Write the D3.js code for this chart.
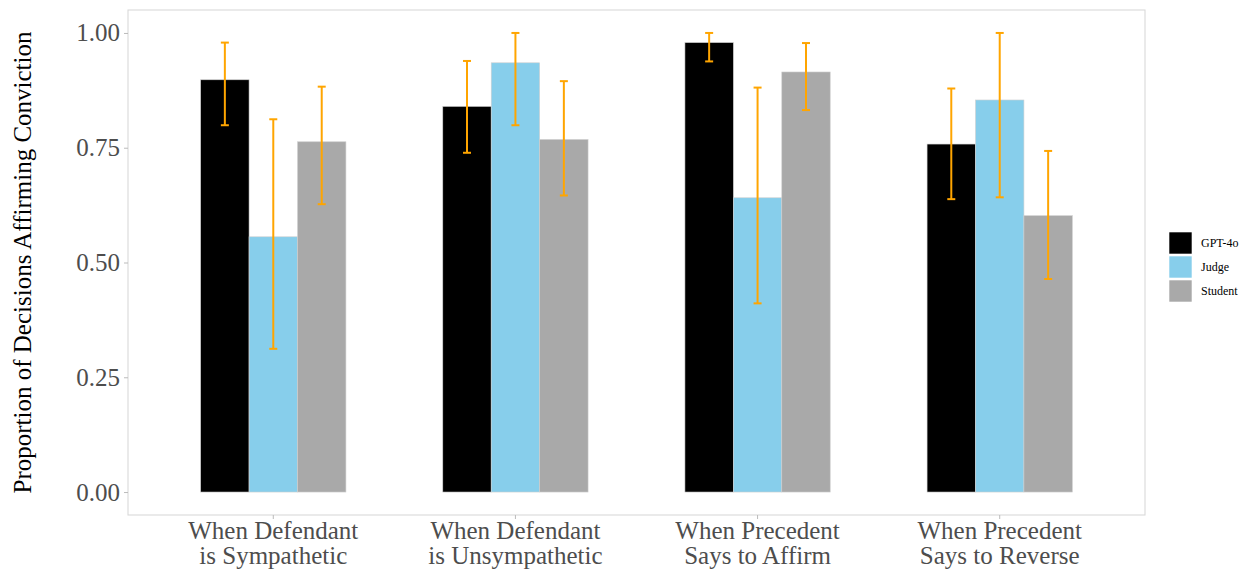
<!DOCTYPE html>
<html><head><meta charset="utf-8">
<script src="https://cdn.jsdelivr.net/npm/d3@7"></script>
<style>body{margin:0;background:#fff}svg{display:block}text{font-family:"Liberation Serif","Times New Roman",serif}</style>
</head><body>
<svg id="c" width="1243" height="569"></svg>
<script>
const categories = [["When Defendant","is Sympathetic"],["When Defendant","is Unsympathetic"],["When Precedent","Says to Affirm"],["When Precedent","Says to Reverse"]];
const groups = ["GPT-4o","Judge","Student"];
const colors = ["#000000","#87CEEB","#A9A9A9"];
const gptValues = [0.898, 0.840, 0.979, 0.758];
const gptLow = [0.799, 0.739, 0.938, 0.638];
const gptHigh = [0.979, 0.939, 1.0, 0.879];
const judgeValues = [0.556, 0.935, 0.641, 0.854];
const judgeLow = [0.312, 0.799, 0.411, 0.642];
const judgeHigh = [0.812, 1.0, 0.881, 1.0];
const studentValues = [0.763, 0.768, 0.915, 0.602];
const studentLow = [0.627, 0.646, 0.832, 0.464];
const studentHigh = [0.883, 0.895, 0.978, 0.743];
const yTicks = [0, 0.25, 0.5, 0.75, 1.0];

const vals = [gptValues, judgeValues, studentValues];
const lows = [gptLow, judgeLow, studentLow];
const highs = [gptHigh, judgeHigh, studentHigh];

const svg = d3.select("#c");
const L = 128, R = 1145, T = 10, B = 515;
const catKeys = categories.map(c => c.join(" "));
const x0 = d3.scaleBand().domain(catKeys).range([L, R]).paddingInner(0.4).paddingOuter(0.3);
const x1 = d3.scaleBand().domain(groups).range([0, x0.bandwidth()]);
const y = d3.scaleLinear().domain([-0.05, 1.05]).range([B, T]);

svg.append("rect").attr("x", L).attr("y", T).attr("width", R - L).attr("height", B - T)
  .attr("fill", "#fff").attr("stroke", "#d9d9d9").attr("stroke-width", 1.1);

const data = [];
catKeys.forEach((c, i) => groups.forEach((g, j) => data.push({c, g, j, v: vals[j][i], lo: lows[j][i], hi: highs[j][i]})));

svg.append("g").selectAll("rect").data(data).join("rect")
  .attr("x", d => x0(d.c) + x1(d.g)).attr("width", x1.bandwidth())
  .attr("y", d => y(d.v)).attr("height", d => y(0) - y(d.v))
  .attr("fill", d => colors[d.j]).attr("stroke", "#d0d0d0").attr("stroke-width", 0.6);

const cap = 4;
const eb = svg.append("g").attr("stroke", "#FFA500").attr("stroke-width", 2);
data.forEach(d => {
  const cx = x0(d.c) + x1(d.g) + x1.bandwidth() / 2;
  eb.append("line").attr("x1", cx).attr("x2", cx).attr("y1", y(d.lo)).attr("y2", y(d.hi));
  eb.append("line").attr("x1", cx - cap).attr("x2", cx + cap).attr("y1", y(d.lo)).attr("y2", y(d.lo));
  eb.append("line").attr("x1", cx - cap).attr("x2", cx + cap).attr("y1", y(d.hi)).attr("y2", y(d.hi));
});

// y axis
const ya = svg.append("g").attr("transform", `translate(${L},0)`)
  .call(d3.axisLeft(y).tickValues(yTicks).tickFormat(d3.format(".2f")).tickSize(4).tickPadding(4));
ya.select(".domain").remove();
ya.selectAll(".tick line").attr("stroke", "#bbb");
ya.selectAll(".tick text").attr("font-size", 25).attr("fill", "#4d4d4d").attr("font-family", "Liberation Serif");

// x axis
const xa = svg.append("g").attr("transform", `translate(0,${B})`)
  .call(d3.axisBottom(x0).tickSize(4).tickFormat(""));
xa.select(".domain").remove();
xa.selectAll(".tick line").attr("stroke", "#bbb");
categories.forEach((c, i) => {
  const cx = x0(catKeys[i]) + x0.bandwidth() / 2;
  const t = svg.append("text").attr("x", cx).attr("y", 539)
    .attr("text-anchor", "middle").attr("font-size", 25).attr("fill", "#4d4d4d");
  t.append("tspan").attr("x", cx).attr("dy", 0).text(c[0]);
  t.append("tspan").attr("x", cx).attr("dy", 25).text(c[1]);
});

svg.append("text").attr("transform", `translate(31,${(T + B) / 2}) rotate(-90)`)
  .attr("text-anchor", "middle").attr("font-size", 25).attr("fill", "#000")
  .text("Proportion of Decisions Affirming Conviction");

// legend
const lg = svg.append("g").attr("transform", "translate(1169,232)");
groups.forEach((g, j) => {
  lg.append("rect").attr("x", 0).attr("y", j * 24).attr("width", 23).attr("height", 22)
    .attr("fill", colors[j]).attr("stroke", "#fff").attr("stroke-width", 0.6);
  lg.append("text").attr("x", 32).attr("y", j * 24 + 15).attr("font-size", 12).attr("fill", "#000").text(g);
});
</script>
</body></html>
